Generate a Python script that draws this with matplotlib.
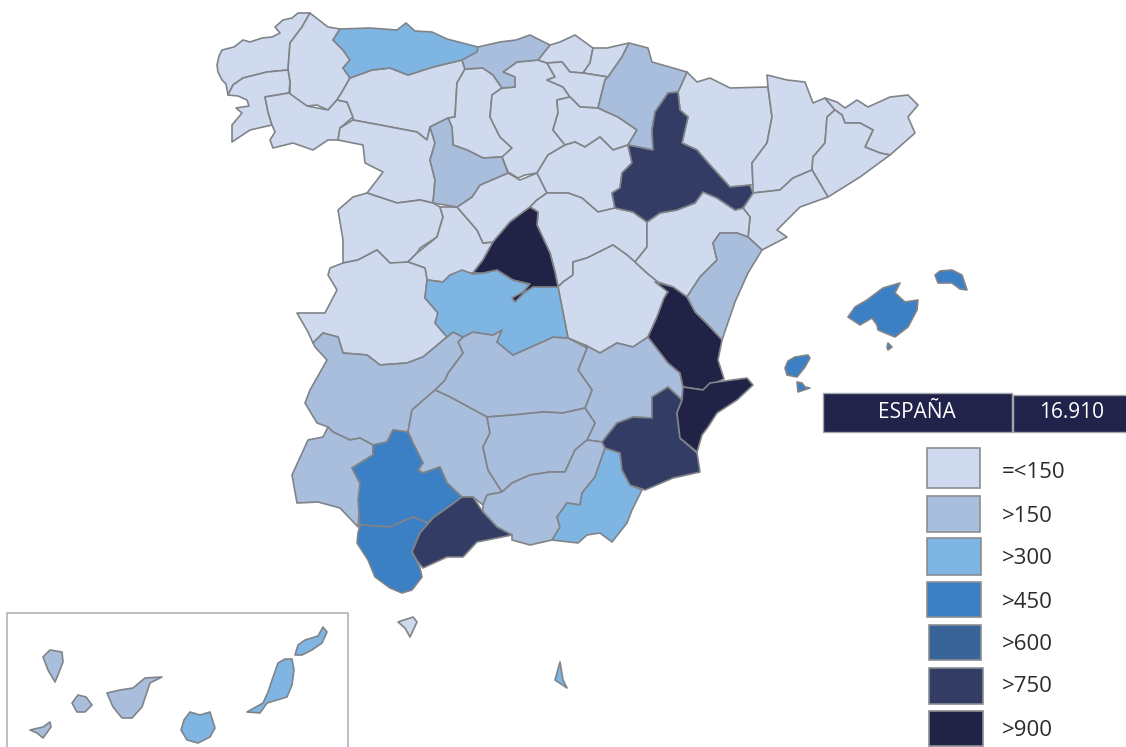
import matplotlib
matplotlib.use('Agg')
import matplotlib.pyplot as plt
from matplotlib.patches import Rectangle

plt.rcParams['font.family'] = ['Open Sans', 'DejaVu Sans']

# legend
legend_labels = ['=<150', '>150', '>300', '>450', '>600', '>750', '>900']
colors = ['#d0daee', '#a9bedd', '#7fb5e2', '#3b80c4', '#38649a', '#323c64', '#202246']
total_label = 'ESPAÑA'
total_value = '16.910'

# province outlines (image pixels)
coruna = [(217,65),(219,56),(222,50),(234,47),(243,40),(250,42),(262,38),(272,37),(280,33),(275,27),(283,20),(292,18),(298,13),(310,13),(302,27),(290,43),(288,70),(267,72),(243,78),(233,85),(228,95),(226,84),(222,80),(218,72)]
lugo = [(310,13),(315,17),(328,27),(340,29),(333,40),(343,50),(350,60),(343,68),(350,78),(342,92),(337,100),(328,110),(317,105),(307,106),(290,97),(290,82),(288,70),(290,43),(302,27)]
pontevedra = [(288,70),(290,82),(289,93),(265,97),(268,112),(272,125),(250,130),(232,142),(232,125),(242,113),(236,108),(249,106),(247,100),(238,96),(228,95),(233,85),(243,78),(267,72)]
ourense = [(265,97),(289,93),(307,106),(328,110),(337,100),(347,102),(353,117),(340,128),(338,140),(328,140),(313,150),(293,143),(273,148),(270,140),(275,132),(272,125),(268,112)]
asturias = [(340,29),(370,28),(397,30),(406,23),(415,31),(432,32),(447,39),(478,47),(477,52),(462,60),(433,67),(408,75),(390,68),(372,70),(350,78),(343,68),(350,60),(343,50),(333,40)]
cantabria = [(478,47),(500,42),(516,40),(530,35),(550,45),(538,60),(517,62),(503,72),(515,77),(515,87),(502,88),(493,75),(483,68),(465,69),(462,60)]
leon = [(350,78),(372,70),(390,68),(408,75),(433,67),(462,60),(465,69),(457,83),(455,117),(448,118),(430,127),(427,140),(417,132),(380,125),(353,120),(353,117),(347,102),(337,100),(342,92)]
palencia = [(465,69),(483,68),(493,75),(502,88),(492,95),(490,117),(500,137),(512,148),(503,157),(483,158),(467,150),(453,145),(452,127),(448,118),(455,117),(457,83)]
valladolid = [(430,127),(448,118),(452,127),(453,145),(467,150),(483,158),(502,157),(508,173),(480,185),(472,197),(457,207),(433,203),(435,180),(430,160),(435,143)]
zamora = [(340,128),(353,120),(380,125),(417,132),(427,140),(430,127),(435,143),(430,160),(435,180),(433,203),(420,200),(397,203),(367,193),(377,180),(383,172),(365,163),(363,145),(338,140)]
salamanca = [(367,193),(353,197),(338,210),(343,240),(343,263),(358,260),(377,250),(390,263),(400,263),(408,262),(417,253),(420,248),(437,237),(443,217),(440,207),(433,203),(420,200),(397,203)]
avila = [(440,207),(457,207),(477,230),(483,243),(493,242),(483,260),(473,273),(450,275),(443,282),(427,280),(425,268),(408,262),(417,253),(437,237),(443,217)]
segovia = [(457,207),(472,197),(480,185),(508,173),(520,180),(537,173),(547,193),(537,200),(530,207),(510,222),(493,242),(483,243),(477,230)]
burgos = [(492,95),(502,88),(515,87),(514,77),(503,72),(517,62),(538,60),(547,63),(555,77),(547,80),(563,87),(570,97),(557,100),(558,113),(553,130),(565,145),(548,155),(537,173),(525,175),(518,178),(508,172),(502,157),(512,148),(500,137),(490,117)]
vizcaya = [(550,45),(560,42),(575,35),(593,48),(590,63),(583,73),(570,72),(562,62),(547,63),(538,60)]
guipuzcoa = [(593,48),(607,48),(629,43),(622,57),(608,77),(583,73),(590,63)]
alava = [(547,80),(555,77),(547,63),(562,62),(570,72),(583,73),(608,77),(605,80),(598,108),(580,107),(570,97),(563,87)]
navarra = [(608,77),(622,57),(629,43),(648,48),(652,62),(687,72),(678,92),(668,93),(655,112),(652,130),(653,150),(628,145),(637,130),(618,117),(598,108),(605,80)]
rioja = [(557,100),(570,97),(580,107),(598,108),(618,117),(637,130),(628,145),(613,150),(600,137),(585,147),(575,142),(565,145),(553,130),(558,113)]
soria = [(537,173),(548,155),(565,145),(575,142),(585,147),(600,137),(613,150),(628,145),(632,163),(622,173),(620,188),(612,193),(615,208),(598,212),(582,198),(568,193),(547,193)]
zaragoza = [(628,145),(653,150),(652,130),(655,112),(668,93),(678,92),(680,110),(688,117),(682,143),(697,150),(710,165),(730,187),(750,185),(753,193),(743,208),(735,210),(717,198),(703,192),(695,203),(677,210),(660,213),(647,222),(633,212),(615,208),(612,193),(620,188),(622,173),(632,163)]
huesca = [(678,92),(687,72),(697,82),(710,78),(730,88),(768,87),(772,117),(767,143),(752,163),(753,185),(730,187),(710,165),(697,150),(682,143),(688,117),(680,110)]
lleida = [(767,75),(787,80),(805,82),(813,103),(825,98),(835,110),(827,117),(825,143),(813,157),(812,170),(793,178),(780,190),(753,193),(753,185),(752,163),(767,143),(772,117),(768,87)]
girona = [(825,98),(837,102),(845,108),(857,100),(868,107),(890,97),(908,95),(918,105),(908,117),(915,133),(890,155),(880,153),(865,147),(873,130),(860,123),(845,123),(842,115),(835,110)]
barcelona = [(835,110),(842,115),(845,123),(860,123),(873,130),(865,147),(880,153),(890,155),(860,177),(828,197),(812,170),(813,157),(825,143),(827,117)]
tarragona = [(753,193),(780,190),(793,178),(812,170),(828,197),(800,207),(777,230),(787,237),(762,250),(748,237),(750,217),(743,208)]
guadalajara = [(547,193),(568,193),(582,198),(598,212),(615,208),(633,212),(647,222),(647,247),(635,262),(627,255),(613,245),(587,258),(573,262),(573,275),(563,282),(558,287),(555,272),(550,253),(537,225),(538,212),(530,207),(537,200)]
madrid = [(530,207),(538,212),(537,225),(550,253),(555,272),(558,287),(533,287),(525,292),(515,302),(512,298),(523,292),(530,284),(513,280),(497,270),(483,273),(473,273),(483,260),(493,242),(510,222)]
toledo = [(427,280),(443,282),(450,275),(462,270),(473,274),(483,273),(497,270),(513,280),(528,284),(558,287),(568,338),(553,337),(540,343),(513,355),(497,342),(502,330),(493,335),(473,332),(463,337),(453,332),(447,337),(435,323),(438,313),(425,298)]
cuenca = [(558,287),(563,282),(573,275),(573,262),(587,258),(613,245),(627,255),(635,262),(647,273),(658,282),(668,290),(657,317),(648,337),(633,347),(617,343),(600,353),(585,345),(568,338)]
teruel = [(647,222),(660,213),(677,210),(695,203),(703,192),(717,198),(735,210),(743,208),(750,217),(748,237),(737,233),(720,233),(713,243),(717,260),(700,277),(687,297),(673,287),(658,282),(647,273),(635,262),(647,247)]
castellon = [(713,243),(720,233),(737,233),(748,237),(762,250),(748,273),(735,302),(722,340),(708,325),(695,312),(687,297),(700,277),(717,260)]
valencia = [(648,337),(657,317),(664,298),(668,292),(655,282),(673,287),(687,297),(695,312),(708,325),(722,340),(718,360),(724,379),(710,385),(703,390),(683,387),(680,373),(668,363)]
alicante = [(683,387),(703,390),(710,383),(747,378),(753,385),(737,400),(717,413),(708,427),(702,435),(697,452),(680,438),(677,413),(682,400)]
albacete = [(585,345),(600,353),(617,343),(633,347),(648,337),(668,363),(680,373),(683,387),(682,400),(668,387),(652,397),(652,418),(633,417),(617,423),(602,442),(587,440),(595,423),(585,408),(592,390),(578,370),(587,348)]
ciudad_real = [(463,337),(473,332),(493,335),(502,330),(497,342),(513,355),(540,343),(553,337),(568,338),(587,348),(578,370),(592,390),(585,408),(563,413),(543,412),(513,415),(487,417),(450,397),(435,390),(445,380),(448,373),(463,353),(458,342)]
caceres = [(330,268),(343,263),(358,260),(377,250),(390,263),(408,262),(425,268),(427,280),(425,298),(438,313),(435,323),(447,337),(423,357),(407,363),(380,365),(367,355),(343,353),(338,337),(323,333),(313,343),(308,332),(297,313),(325,313),(337,290),(328,275)]
badajoz = [(313,343),(323,333),(338,337),(343,353),(367,355),(380,365),(407,363),(423,357),(447,337),(453,332),(463,337),(458,342),(463,353),(448,373),(445,380),(435,390),(412,410),(408,432),(393,430),(387,442),(373,445),(360,438),(350,440),(333,432),(328,427),(317,423),(305,403),(310,390),(327,360),(315,347)]
huelva = [(328,427),(333,432),(350,440),(360,438),(373,445),(373,455),(352,468),(360,483),(360,500),(358,527),(340,508),(318,502),(297,503),(292,475),(308,440),(323,437)]
sevilla = [(373,445),(387,442),(393,430),(408,432),(413,443),(423,463),(418,470),(423,473),(440,467),(447,483),(462,497),(447,508),(433,518),(428,523),(413,517),(390,527),(360,525),(358,500),(360,483),(352,468),(373,455)]
cadiz = [(360,525),(390,527),(413,517),(428,523),(433,518),(420,533),(412,552),(420,568),(422,577),(412,590),(402,593),(390,588),(375,577),(368,560),(357,543),(358,533)]
malaga = [(412,552),(420,533),(433,518),(447,508),(462,497),(473,497),(483,512),(497,527),(512,535),(477,542),(463,557),(447,557),(423,568),(418,562)]
cordoba = [(408,432),(412,410),(435,390),(450,397),(487,417),(490,433),(483,447),(488,470),(502,492),(487,495),(483,505),(473,497),(462,497),(447,483),(440,467),(423,473),(418,470),(423,463),(413,443)]
jaen = [(487,417),(513,415),(543,412),(563,413),(585,408),(595,423),(587,440),(575,450),(565,472),(550,472),(530,475),(512,483),(502,492),(488,470),(483,447),(490,433)]
granada = [(502,492),(512,483),(530,475),(550,472),(565,472),(575,450),(587,440),(602,442),(605,448),(595,477),(582,493),(580,505),(567,503),(557,517),(560,527),(552,540),(530,545),(512,540),(512,535),(497,527),(483,512),(483,505),(487,495)]
almeria = [(605,448),(620,453),(622,470),(630,485),(642,490),(632,510),(627,523),(612,542),(600,533),(587,535),(578,543),(552,540),(560,527),(557,517),(567,503),(580,505),(582,493),(595,477)]
murcia = [(602,442),(617,423),(633,417),(652,418),(652,397),(668,387),(682,400),(677,413),(680,438),(697,453),(700,472),(673,478),(645,490),(630,485),(622,470),(620,453),(605,448)]
# islands
mallorca = [(848,317),(855,307),(867,300),(883,288),(900,283),(895,293),(905,302),(918,300),(917,310),(908,327),(895,337),(878,330),(877,325),(872,318),(860,325)]
menorca = [(935,275),(940,271),(952,270),(962,275),(967,290),(960,289),(952,283),(938,283)]
ibiza = [(785,368),(788,361),(795,357),(808,355),(810,358),(805,367),(797,377),(787,375)]
formentera = [(797,382),(802,383),(805,387),(810,388),(798,392)]
cabrera = [(888,343),(892,347),(888,350),(887,347)]
lanzarote = [(295,655),(298,645),(305,640),(318,636),(323,627),(327,632),(322,643),(312,650),(302,655)]
fuerteventura = [(278,663),(285,659),(292,659),(294,670),(292,685),(287,697),(267,703),(260,713),(247,712),(263,703),(268,692),(272,680)]
gran_canaria = [(190,712),(200,715),(210,712),(215,728),(210,737),(198,743),(187,740),(181,730),(184,720)]
tenerife = [(107,693),(120,690),(133,688),(145,678),(162,677),(150,683),(142,707),(132,718),(122,718),(113,707)]
gomera = [(72,703),(78,695),(86,697),(92,705),(85,712),(77,712)]
la_palma = [(43,657),(50,650),(62,652),(63,662),(58,675),(55,682),(48,670)]
hierro = [(30,730),(43,727),(50,722),(51,727),(43,738),(37,733)]
ceuta = [(398,622),(413,617),(417,622),(410,637),(405,628)]
melilla = [(555,680),(560,662),(563,680),(567,688)]

# class of each province, 0 to 6, as in the legend
level0 = [coruna, lugo, pontevedra, ourense, leon, palencia, zamora, salamanca, avila, segovia, burgos, vizcaya,
          guipuzcoa, alava, rioja, soria, huesca, lleida, girona, barcelona, tarragona, guadalajara, cuenca, teruel,
          caceres, ceuta]
level1 = [cantabria, valladolid, navarra, castellon, albacete, ciudad_real, badajoz, huelva, cordoba, jaen, granada,
          tenerife, gomera, la_palma, hierro]
level2 = [asturias, toledo, almeria, lanzarote, fuerteventura, gran_canaria, melilla]
level3 = [sevilla, cadiz, mallorca, menorca, ibiza, formentera, cabrera]
level4 = []
level5 = [zaragoza, malaga, murcia]
level6 = [madrid, valencia, alicante]
levels = [level0, level1, level2, level3, level4, level5, level6]

W, H = 1126, 747
fig = plt.figure(figsize=(W / 100, H / 100), dpi=100)
ax = fig.add_axes([0, 0, 1, 1])
ax.set_xlim(0, W)
ax.set_ylim(H, 0)
ax.axis('off')

edge = '#808488'
for i in range(len(levels)):
    for shape in levels[i]:
        xs = [p[0] for p in shape]
        ys = [p[1] for p in shape]
        ax.fill(xs, ys, facecolor=colors[i], edgecolor=edge, linewidth=1.2, joinstyle='round', zorder=2 + i * 0.1)

# canary islands frame
ax.plot([7, 7, 348, 348], [747, 613, 613, 747], color='#a9adb3', linewidth=1.1, zorder=1)

# total bar
ax.add_patch(Rectangle((823, 393), 189, 39, facecolor='#21234a', edgecolor='#a3a5ab', linewidth=1.0, zorder=3))
ax.add_patch(Rectangle((1013, 395), 114, 37, facecolor='#21234a', edgecolor='#a3a5ab', linewidth=1.0, zorder=3))
ax.text(917, 413, total_label, color='white', fontsize=15, ha='center', va='center', zorder=4)
ax.text(1072, 413, total_value, color='white', fontsize=15, ha='center', va='center', zorder=4)

# legend boxes
box_x = [927, 927, 927, 927, 929, 929, 929]
box_w = [53, 53, 54, 54, 52, 54, 54]
box_y = [448, 496, 538, 582, 625, 668, 711]
box_h = [40, 36, 37, 35, 35, 36, 35]
label_y = [472, 517, 559, 602, 645, 687, 730]
for i in range(len(legend_labels)):
    ax.add_patch(Rectangle((box_x[i], box_y[i]), box_w[i], box_h[i], facecolor=colors[i], edgecolor='#8b8d92', linewidth=1.2))
    ax.text(1002, label_y[i], legend_labels[i], color='#2b2b2b', fontsize=16, ha='left', va='center')

fig.savefig('out.png', dpi=100)
